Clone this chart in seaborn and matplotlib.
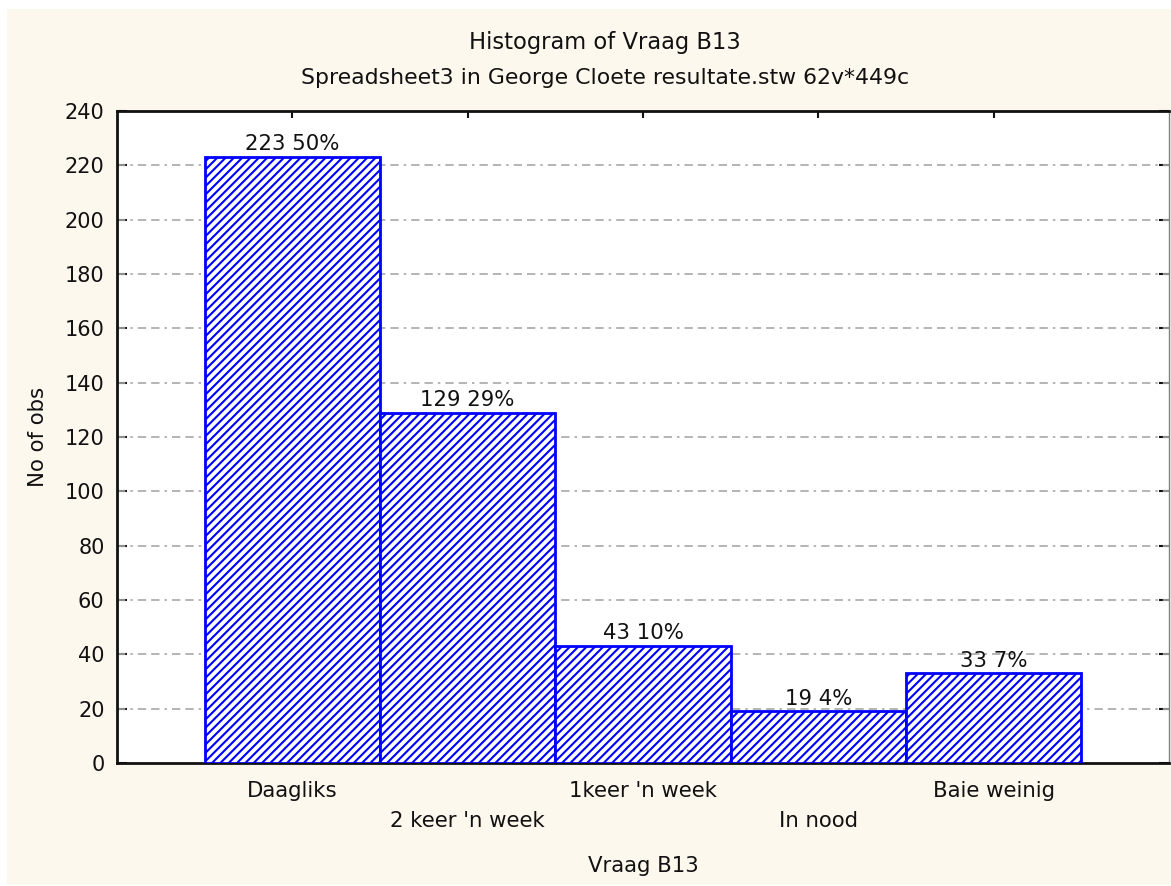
import matplotlib
matplotlib.use("Agg")
import matplotlib.pyplot as plt
from matplotlib.patches import Rectangle
import seaborn as sns

categories = ["Daagliks", "2 keer 'n week", "1keer 'n week", "In nood", "Baie weinig"]
counts = [223, 129, 43, 19, 33]
percents = [50, 29, 10, 4, 7]
yticks = list(range(0, 241, 20))

sns.set_theme(style="white")
plt.rcParams['font.family'] = ['DejaVu Sans']
plt.rcParams['hatch.linewidth'] = 1.5

cream = "#fdf8ee"
fig = plt.figure(figsize=(11.71, 8.86), dpi=100, facecolor="white")
fig.patches.append(Rectangle((7/1171, 1/886), 1, 876/886, transform=fig.transFigure,
                             facecolor=cream, edgecolor="none", zorder=-10))
ax = fig.add_axes([117/1171, 1 - 763/886, (1169 - 117)/1171, (763 - 111)/886])
ax.set_facecolor("white")

sns.barplot(x=categories, y=counts, width=1.0, color="white", edgecolor="#0000ff",
            linewidth=2, hatch="////", ax=ax, zorder=3, saturation=1)
for p in ax.patches:
    p.set_facecolor("white")
    p.set_edgecolor("#0000ff")

labels = [f"{c} {p}%" for c, p in zip(counts, percents)]
ax.bar_label(ax.containers[0], labels=labels, padding=2, fontsize=15.3, color="#111111")

ax.set_xlim(-1, 5)
ax.set_ylim(0, 240)
ax.set_yticks(yticks)
ax.set_yticklabels([str(t) for t in yticks], fontsize=15)
ax.set_xticks(range(len(categories)))
ax.set_xticklabels([c if i % 2 == 0 else "\n" + c for i, c in enumerate(categories)],
                   fontsize=15.3, linespacing=1.6, va="top")

for y in yticks[1:-1]:
    ax.axhline(y, color="#a8a8a8", linewidth=1.2, linestyle=(0, (5, 3, 1.5, 3, 5, 3)), zorder=1)

ax.tick_params(axis="both", direction="in", colors="#111111", labelcolor="#111111")
ax.tick_params(axis="y", length=7, width=1.5, pad=9, left=True, right=True)
ax.tick_params(axis="x", length=5, width=1.5, pad=13, bottom=True, top=True)

for side in ["left", "bottom", "top"]:
    ax.spines[side].set_color("#111111")
    ax.spines[side].set_linewidth(2)
ax.spines["right"].set_color("#808080")
ax.spines["right"].set_linewidth(1)

ax.set_xlabel("")
ax.set_ylabel("")
fig.text(643/1171, 1 - 866/886, "Vraag B13", ha="center", va="center", fontsize=15.3, color="#111111")
fig.text(38/1171, 1 - 437/886, "No of obs", ha="center", va="center", rotation=90, fontsize=15.3, color="#111111")
fig.text(605/1171, 1 - 42/886, "Histogram of Vraag B13", ha="center", va="center", fontsize=16.3, color="#111111")
fig.text(605/1171, 1 - 78/886, "Spreadsheet3 in George Cloete resultate.stw 62v*449c", ha="center",
         va="center", fontsize=15.8, color="#111111")

fig.savefig("out.png", dpi=100, facecolor=fig.get_facecolor())
